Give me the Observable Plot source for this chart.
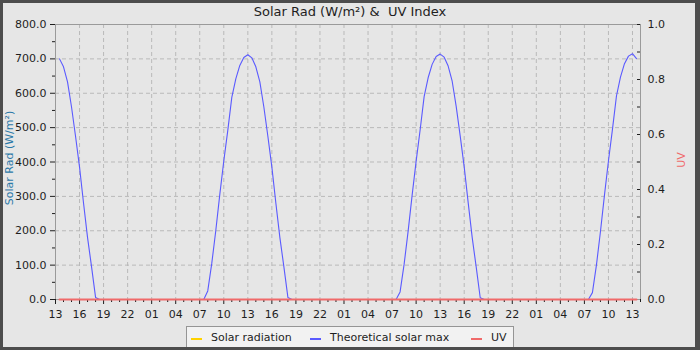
<!DOCTYPE html>
<html>
<head>
<meta charset="utf-8">
<script src="https://cdn.jsdelivr.net/npm/d3@7"></script>
<script src="https://cdn.jsdelivr.net/npm/@observablehq/plot@0.6"></script>
<style>
  body { margin: 0; background: #e6e6e6; font-family: "DejaVu Sans", sans-serif; }
  #wrap { position: relative; width: 700px; height: 350px; background: #e6e6e6; overflow: hidden; }
  #chart { position: absolute; left: 0; top: 0; }
  #border { position: absolute; left: 0; top: 0; width: 700px; height: 350px; box-sizing: border-box;
            border: 3px solid #4d4d4d; border-right-width: 5px; border-bottom-width: 3px; pointer-events: none; }
  #title { position: absolute; left: 0; top: 4px; width: 700px; text-align: center; font-size: 13px;
           line-height: 15px; color: #1e1e1e; white-space: pre; }
  .ylab { position: absolute; font-size: 11px; line-height: 13px; white-space: nowrap;
          transform: translate(-50%, -50%) rotate(-90deg); }
  #legend { position: absolute; left: 186px; top: 326px; width: 328px; height: 26px; box-sizing: border-box;
            background: #f2f2f2; border: 1px solid #959595; font-size: 11px; line-height: 13px; color: #1e1e1e; }
  .sw { position: absolute; top: 11px; width: 11px; height: 2px; }
  .lt { position: absolute; top: 4px; white-space: nowrap; }
</style>
</head>
<body>
<div id="wrap">
  <div id="chart"></div>
  <div id="title"></div>
  <div class="ylab" id="ylabL" style="left:9px; top:158px; color:#2a78a8;"></div>
  <div class="ylab" id="ylabR" style="left:681px; top:160px; color:#f06a6a;"></div>
  <div id="legend"></div>
  <div id="border"></div>
</div>
<script>
// ---- Text ----
const titleText = "Solar Rad (W/m\u00b2) &  UV Index";
const leftAxisLabel = "Solar Rad (W/m\u00b2)";
const rightAxisLabel = "UV";
const seriesNames = ["Solar radiation", "Theoretical solar max", "UV"];
const seriesColors = ["#ffd200", "#5a5aff", "#f06a6a"];

// ---- X axis (hours since 13:00 of day 1) ----
const xDomain = [0, 73];
const xTickLabels = ["13","16","19","22","01","04","07","10",
                     "13","16","19","22","01","04","07","10",
                     "13","16","19","22","01","04","07","10","13"];
const xTickStep = 3;

// ---- Y axes ----
const yDomain = [0, 800];
const yTickValues = [0, 100, 200, 300, 400, 500, 600, 700, 800];
const yMinorTicks = [50, 150, 250, 350, 450, 550, 650, 750];
const uvTickValues = [0, 0.2, 0.4, 0.6, 0.8, 1.0];
const uvMinorTicks = [0.1, 0.3, 0.5, 0.7, 0.9];
const uvMax = 1.0;

// ---- Theoretical solar max, half-hourly samples starting 13:30 day 1 ----
const sampleStart = 0.5;   // 13:30 day 1
const sampleStep = 0.5;    // hours
const theoDay1 = [700, 677, 633, 560, 475, 385, 280, 180, 95, 6,
                  0, 0, 0, 0, 0, 0, 0, 0, 0, 0, 0];
const theoDay2 = [0, 0, 0, 0, 0, 0, 0, 0, 0, 0, 0, 0, 0, 0, 0, 0,
                  25, 105, 200, 305, 403, 492, 588, 642, 681, 704, 712,
                  703, 677, 633, 560, 475, 385, 280, 180, 95, 6,
                  0, 0, 0, 0, 0, 0, 0, 0, 0, 0, 0];
const theoDay3 = [0, 0, 0, 0, 0, 0, 0, 0, 0, 0, 0, 0, 0, 0, 0, 0,
                  22, 102, 198, 303, 402, 493, 590, 645, 684, 707, 714,
                  705, 679, 635, 562, 476, 386, 281, 180, 94, 5,
                  0, 0, 0, 0, 0, 0, 0, 0, 0, 0, 0];
const theoDay4 = [0, 0, 0, 0, 0, 0, 0, 0, 0, 0, 0, 0, 0, 0, 0, 0,
                  20, 100, 197, 303, 403, 495, 592, 647, 686, 708, 715,
                  701];

// ---- Solar radiation and UV (flat at zero over the whole period) ----
const measuredTimes = [0.5, 72.5];
const solarRadValues = [0, 0];
const uvValues = [0, 0];

// ---- Build tables ----
const theoValues = [...theoDay1, ...theoDay2, ...theoDay3, ...theoDay4];
const theoData = theoValues.map((v, i) => ({t: sampleStart + i * sampleStep, v}));
const solarData = measuredTimes.map((t, i) => ({t, v: solarRadValues[i]}));
const uvData = measuredTimes.map((t, i) => ({t, v: uvValues[i] / uvMax * yDomain[1]}));

const xMajor = xTickLabels.map((_, i) => i * xTickStep);
const xMinor = d3.range(xDomain[0], xDomain[1] + 1, 1).filter(h => h % xTickStep !== 0);
const uvScaled = uvTickValues.map(u => u / uvMax * yDomain[1]);
const uvMinorScaled = uvMinorTicks.map(u => u / uvMax * yDomain[1]);

const W = 700, H = 350, mL = 55, mR = 60, mT = 24, mB = 51;

const chart = Plot.plot({
  width: W, height: H,
  marginLeft: mL, marginRight: mR, marginTop: mT, marginBottom: mB,
  style: {background: "transparent", fontFamily: "DejaVu Sans, sans-serif", fontSize: "11px", color: "#1e1e1e"},
  x: {domain: xDomain},
  y: {domain: yDomain},
  marks: [
    Plot.gridY(yTickValues.filter(v => v > yDomain[0] && v < yDomain[1]),
      {stroke: "#b9b9b9", strokeOpacity: 1, strokeDasharray: "4,3"}),
    Plot.gridX(xMajor.filter(v => v > xDomain[0]),
      {stroke: "#b9b9b9", strokeOpacity: 1, strokeDasharray: "4,3"}),
    Plot.frame({stroke: "#9a9a9a"}),
    Plot.axisY(yTickValues, {tickSize: 5, tickPadding: 4, tickFormat: d => d.toFixed(1), label: null, stroke: "#1e1e1e"}),
    Plot.axisY(yMinorTicks, {tickSize: 3, tickFormat: () => "", label: null, stroke: "#1e1e1e"}),
    Plot.axisX(xMajor, {tickSize: 5, tickPadding: 6, tickFormat: d => xTickLabels[Math.round(d / xTickStep)], label: null, stroke: "#1e1e1e"}),
    Plot.axisX(xMinor, {tickSize: 3, tickFormat: () => "", label: null, stroke: "#1e1e1e"}),
    Plot.axisY(uvScaled, {anchor: "right", tickSize: 0, tickPadding: 7, tickFormat: d => (d / yDomain[1] * uvMax).toFixed(1), label: null}),
    Plot.ruleY([...uvScaled, ...uvMinorScaled].filter(v => v > 0), {insetLeft: W - mL - mR - 3, stroke: "#1e1e1e"}),
    Plot.line(solarData, {x: "t", y: "v", stroke: seriesColors[0], strokeWidth: 1}),
    Plot.line(theoData, {x: "t", y: "v", stroke: seriesColors[1], strokeWidth: 1.1}),
    Plot.line(uvData, {x: "t", y: "v", stroke: seriesColors[2], strokeWidth: 2})
  ]
});
document.getElementById("chart").appendChild(chart);

document.getElementById("title").textContent = titleText;
document.getElementById("ylabL").textContent = leftAxisLabel;
document.getElementById("ylabR").textContent = rightAxisLabel;

// legend
const legend = document.getElementById("legend");
const swLeft = [4, 123, 284];
const txtLeft = [24, 143, 304];
seriesNames.forEach((name, i) => {
  const sw = document.createElement("div");
  sw.className = "sw";
  sw.style.left = swLeft[i] + "px";
  sw.style.background = seriesColors[i];
  legend.appendChild(sw);
  const t = document.createElement("div");
  t.className = "lt";
  t.style.left = txtLeft[i] + "px";
  t.textContent = name;
  legend.appendChild(t);
});
</script>
</body>
</html>
